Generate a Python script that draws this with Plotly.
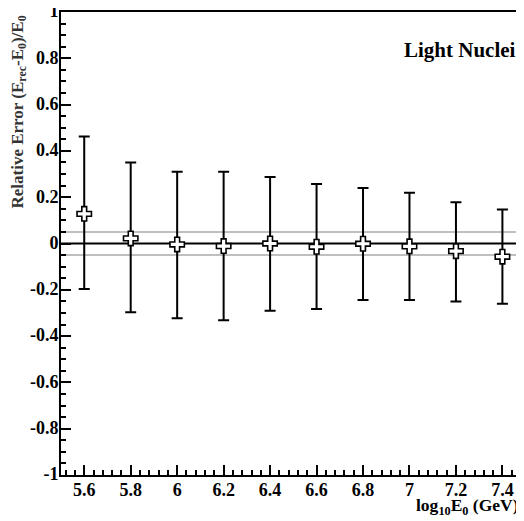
import plotly.graph_objects as go

# Data
log_e0 = [5.6, 5.8, 6.0, 6.2, 6.4, 6.6, 6.8, 7.0, 7.2, 7.4]
rel_err = [0.128, 0.022, -0.004, -0.011, 0.000, -0.014, -0.001, -0.012, -0.033, -0.057]
err_top = [0.462, 0.350, 0.310, 0.310, 0.287, 0.257, 0.240, 0.219, 0.178, 0.147]
err_bottom = [-0.197, -0.297, -0.323, -0.331, -0.290, -0.283, -0.244, -0.244, -0.251, -0.260]

x_ticks = [5.6, 5.8, 6.0, 6.2, 6.4, 6.6, 6.8, 7.0, 7.2, 7.4]
x_ticklabels = ["5.6", "5.8", "6", "6.2", "6.4", "6.6", "6.8", "7", "7.2", "7.4"]
y_ticks = [1, 0.8, 0.6, 0.4, 0.2, 0, -0.2, -0.4, -0.6, -0.8, -1]
y_ticklabels = ["1", "0.8", "0.6", "0.4", "0.2", "0", "-0.2", "-0.4", "-0.6", "-0.8", "-1"]

ref_zero = 0.0
ref_band = [0.05, -0.05]

err_plus = [t - v for t, v in zip(err_top, rel_err)]
err_minus = [v - b for v, b in zip(rel_err, err_bottom)]

FONT = "Liberation Serif"

fig = go.Figure()

# reference lines
fig.add_hline(y=ref_zero, line=dict(color="black", width=2), layer="below")
for yv in ref_band:
    fig.add_hline(y=yv, line=dict(color="#aaaaaa", width=1.5), layer="below")

fig.add_trace(go.Scatter(
    x=log_e0, y=rel_err, mode="markers",
    marker=dict(symbol="cross", size=12, color="white",
                line=dict(color="black", width=1.6)),
    error_y=dict(type="data", symmetric=False, array=err_plus, arrayminus=err_minus,
                 color="black", thickness=2, width=5.5),
    showlegend=False,
))

# right frame line (gray)
fig.add_shape(type="line", xref="paper", yref="paper", x0=1, x1=1, y0=0, y1=1,
              line=dict(color="#999999", width=1.5))

# The page body adds an 8px offset, so the figure is 8px smaller with reduced margins
fig.update_layout(
    width=516, height=513,
    margin=dict(l=53, r=3, t=4, b=46, autoexpand=False),
    paper_bgcolor="white", plot_bgcolor="white",
    font=dict(family=FONT, color="black"),
    xaxis=dict(
        range=[5.5, 7.48], showgrid=False, zeroline=False,
        showline=True, linecolor="black", linewidth=2, mirror=True,
        ticks="inside", ticklen=10, tickwidth=2, tickcolor="black",
        tickvals=x_ticks, ticktext=x_ticklabels,
        tickfont=dict(family=FONT, size=18, weight="bold", color="black"),
        ticklabelstandoff=-3, automargin=False, ticklabeloverflow="allow",
        minor=dict(ticks="inside", ticklen=5, tickwidth=2, tickcolor="black",
                   dtick=0.04, tick0=5.6, showgrid=False),
    ),
    yaxis=dict(
        range=[-1, 1], showgrid=False, zeroline=False,
        showline=True, linecolor="black", linewidth=2, mirror=False,
        ticks="inside", ticklen=10, tickwidth=2, tickcolor="black",
        tickvals=y_ticks, ticktext=y_ticklabels,
        tickfont=dict(family=FONT, size=18, weight="bold", color="black"),
        ticklabelstandoff=-3, automargin=False, ticklabeloverflow="allow",
        ticklabelshift=-1,
        minor=dict(ticks="inside", ticklen=5, tickwidth=2, tickcolor="black",
                   dtick=0.05, tick0=0, showgrid=False),
    ),
    annotations=[
        dict(text="Light Nuclei", xref="paper", yref="paper", x=0.993, y=0.918,
             xanchor="right", yanchor="middle", showarrow=False,
             font=dict(family=FONT, size=21, weight="bold", color="black")),
        dict(text="log<sub>10</sub>E<sub>0</sub> (GeV)", xref="paper", yref="paper",
             x=1.0, y=0, xanchor="right", yanchor="top", yshift=-18,
             showarrow=False,
             font=dict(family=FONT, size=17.5, weight="bold", color="black")),
        dict(text="Relative Error (E<sub>rec</sub>-E<sub>0</sub>)/E<sub>0</sub>",
             xref="paper", yref="paper", x=0, y=1, xshift=-43, yshift=-2,
             xanchor="center", yanchor="top", textangle=-90, showarrow=False,
             font=dict(family=FONT, size=17, weight="bold", color="#333333")),
    ],
)

fig.write_html("out.html")
